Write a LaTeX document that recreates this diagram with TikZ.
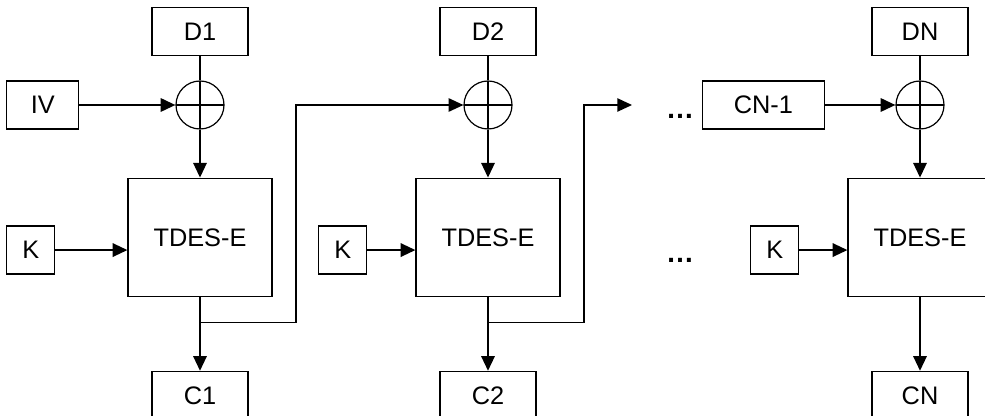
\documentclass[tikz,border=0pt]{standalone}
\usepackage{fontspec}
\setmainfont{Liberation Sans}
\usepackage{tikz}
\usetikzlibrary{arrows.meta, positioning, calc}

\begin{document}
\begin{tikzpicture}[
    x=0.75pt, y=-0.75pt,
    every node/.style={font=\fontsize{19}{21}\selectfont},
    box/.style={rectangle, draw, line width=0.9pt, minimum width=72pt, minimum height=36pt, inner sep=0pt},
    keybox/.style={box, minimum width=36pt},
    cipher/.style={box, minimum width=108pt, minimum height=89pt},
    xorop/.style={circle, draw, line width=0.9pt, minimum size=36pt, inner sep=0pt,
        path picture={\draw[line width=0.9pt] (path picture bounding box.north) -- (path picture bounding box.south)
            (path picture bounding box.west) -- (path picture bounding box.east);}},
    dotstext/.style={anchor=base, font=\fontsize{21}{23}\selectfont\bfseries},
    line/.style={-{Triangle[length=11pt, width=10pt]}, line width=1.5pt},
    wire/.style={line width=0.9pt},
    feed/.style={line, line width=1pt}
]
    \useasboundingbox (0,0) rectangle (985,416);

    % Stage 1
    \node[xorop] (x1) at (200,105) {};
    \node[box, above=18pt of x1] (D1) {D1};
    \node[box, left=72pt of x1, minimum width=54pt] (IV) {IV};
    \node[cipher, below=36pt of x1] (E1) {TDES-E};
    \node[keybox, left=54pt of E1, yshift=-9.4pt] (K1) {K};
    \node[box, below=55pt of E1] (C1) {C1};

    % Stage 2
    \node[xorop] (x2) at (488,105) {};
    \node[box, above=18pt of x2] (D2) {D2};
    \node[cipher, below=36pt of x2] (E2) {TDES-E};
    \node[keybox, left=36pt of E2, yshift=-9.4pt] (K2) {K};
    \node[box, below=55pt of E2] (C2) {C2};

    % Stage N
    \node[xorop] (xN) at (920,105) {};
    \node[box, above=18pt of xN] (DN) {DN};
    \node[box, left=53pt of xN, minimum width=91pt] (CN1) {CN-1};
    \node[cipher, below=36pt of xN] (EN) {TDES-E};
    \node[keybox, left=36pt of EN, yshift=-9.4pt] (KN) {K};
    \node[box, below=55pt of EN] (CN) {CN};

    % Dots
    \node[dotstext] (dots1) at (680,119) {\textellipsis};
    \node[dotstext] (dots2) at (680,263) {\textellipsis};

    % Arrows
    \draw[wire] (D1) -- (x1);
    \draw[line] (IV) -- (x1);
    \draw[line] (x1) -- (E1);
    \draw[line] (K1) -- (K1 -| E1.west);
    \draw[line] (E1) -- (C1);

    \draw[wire] (D2) -- (x2);
    \draw[line] (x2) -- (E2);
    \draw[line] (K2) -- (K2 -| E2.west);
    \draw[line] (E2) -- (C2);

    \draw[wire] (DN) -- (xN);
    \draw[line] (CN1) -- (xN);
    \draw[line] (xN) -- (EN);
    \draw[line] (KN) -- (KN -| EN.west);
    \draw[line] (EN) -- (CN);

    % Chaining
    \coordinate (b1) at ($(E1.south)!0.34!(C1.north)$);
    \coordinate (b2) at ($(E2.south)!0.34!(C2.north)$);
    \coordinate (gap) at (632,105);
    \draw[feed] (b1) -- ++(72pt,0) |- (x2);
    \draw[feed] (b2) -- ++(72pt,0) |- (gap);
\end{tikzpicture}
\end{document}
